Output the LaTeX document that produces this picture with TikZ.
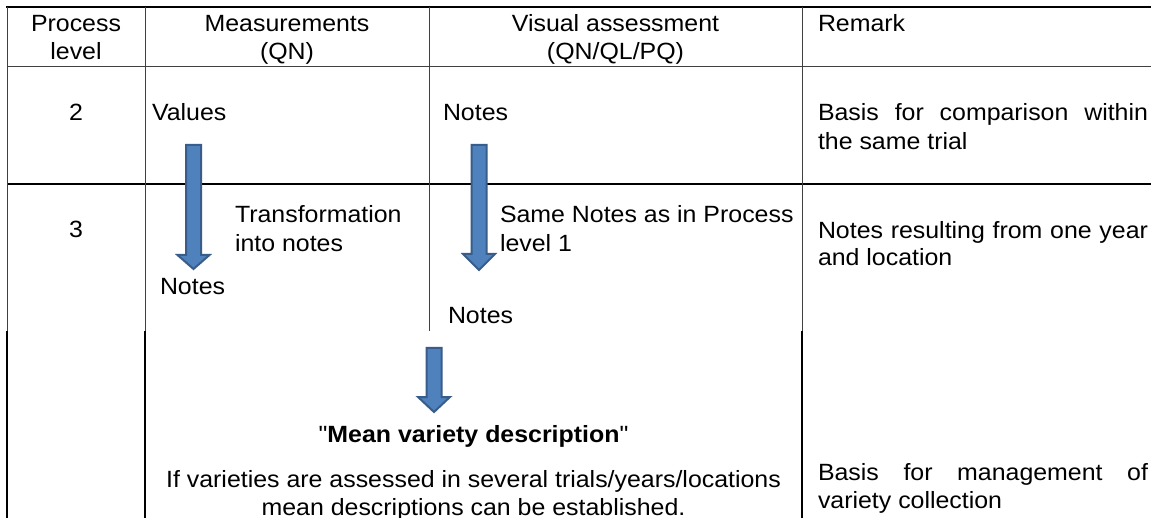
\documentclass[tikz,border=0pt]{standalone}
\usepackage{fontspec}
\setmainfont[FakeStretch=1.06, Ligatures=TeXOff]{Liberation Sans}
\definecolor{arrowfill}{RGB}{79,129,189}
\definecolor{arrowedge}{RGB}{56,93,138}
\newcommand{\mydownarrow}[4]{%
  \draw[blockarrow] (#1-7.5,#2) -- (#1+7.5,#2) -- (#1+7.5,#3) -- (#1+16,#3)
    -- (#1,#4) -- (#1-16,#3) -- (#1-7.5,#3) -- cycle;}
\begin{document}
\begin{tikzpicture}[x=1pt,y=-1pt,
  every node/.style={inner sep=0pt, outer sep=0pt},
  txt/.style={font=\fontsize{23.5}{28}\selectfont},
  thinline/.style={line width=1pt, draw=black!75},
  thickline/.style={line width=2pt, draw=black},
  blockarrow/.style={fill=arrowfill, draw=arrowedge, line width=2pt, line join=miter}]
\useasboundingbox (0,0) rectangle (1151,518);
\fill[white] (0,0) rectangle (1151,518);
% table rules
\draw[thickline] (6,7) -- (1151,7);
\draw[thinline] (7,67) -- (1151,67);
\draw[thickline] (7,184) -- (1151,184);
\draw[thinline] (7,7) -- (7,331);
\draw[thinline] (145,7) -- (145,331);
\draw[thinline] (429,7) -- (429,331);
\draw[thinline] (802,7) -- (802,331);
\draw[thickline] (7,331) -- (7,518);
\draw[thickline] (145,331) -- (145,518);
\draw[thickline] (802,331) -- (802,518);
% block arrows
\mydownarrow{193.5}{145}{255}{269}
\mydownarrow{479}{145}{254}{270}
\mydownarrow{434}{348}{397}{412}
% header
\node[txt, anchor=base] (h1a) at (76,32) {Process};
\node[txt, anchor=base] (h1b) at (76,60) {level};
\node[txt, anchor=base] (h2a) at (287,32) {Measurements};
\node[txt, anchor=base] (h2b) at (287,60) {(QN)};
\node[txt, anchor=base] (h3a) at (615.5,32) {Visual assessment};
\node[txt, anchor=base] (h3b) at (615.5,60) {(QN/QL/PQ)};
\node[txt, anchor=base west] (h4) at (818,32) {Remark};
% row 2
\node[txt, anchor=base] (l2) at (76,121) {2};
\node[txt, anchor=base west] (vals) at (152,121) {Values};
\node[txt, anchor=base west] (notes2) at (443,121) {Notes};
\node[txt, anchor=base west] (r2a) at (818,121) {\makebox[330pt][s]{Basis for comparison within}};
\node[txt, anchor=base west] (r2b) at (818,150) {the same trial};
% row 3
\node[txt, anchor=base] (l3) at (76,238) {3};
\node[txt, anchor=base west] (tr1) at (235,223) {Transformation};
\node[txt, anchor=base west] (tr2) at (235,252) {into notes};
\node[txt, anchor=base west] (notes3a) at (160,295) {Notes};
\node[txt, anchor=base west] (sn1) at (500,223) {Same Notes as in Process};
\node[txt, anchor=base west] (sn2) at (500,252) {level 1};
\node[txt, anchor=base west] (notes3b) at (448,324) {Notes};
\node[txt, anchor=base west] (r3a) at (818,239) {\makebox[330pt][s]{Notes resulting from one year}};
\node[txt, anchor=base west] (r3b) at (818,266) {and location};
% row 4
\node[txt, anchor=base] (mv) at (473.5,442) {"\textbf{Mean variety description}"};
\node[txt, anchor=base] (if1) at (473.5,487) {If varieties are assessed in several trials/years/locations};
\node[txt, anchor=base] (if2) at (473.5,515) {mean descriptions can be established.};
\node[txt, anchor=base west] (r4a) at (818,480) {\makebox[330pt][s]{Basis for management of}};
\node[txt, anchor=base west] (r4b) at (818,508) {variety collection};
\end{tikzpicture}
\end{document}
